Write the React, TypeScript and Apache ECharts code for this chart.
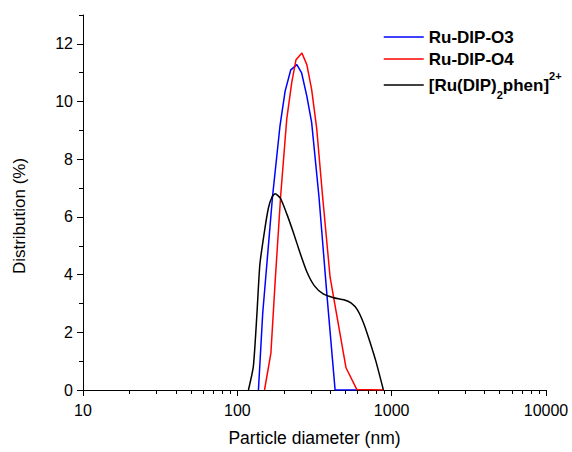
import React, { useEffect, useRef } from 'react';
import * as echarts from 'echarts';

const FONT = '"Liberation Sans", Arial, Helvetica, sans-serif';

const seriesNames = ['Ru-DIP-O3', 'Ru-DIP-O4', '[Ru(DIP)2phen]2+'];
const seriesColors = ['#0000ff', '#ff0000', '#000000'];

// Ru-DIP-O3 (blue)
const o3Diameter = [137, 146, 169, 189, 204, 222, 243, 261, 282, 303, 338, 380, 430, 594];
const o3Dist = [0, 2.65, 6.7, 9.16, 10.36, 11.1, 11.28, 10.99, 10.19, 9.28, 6.7, 3.34, 0, 0];

// Ru-DIP-O4 (red)
const o4Diameter = [150, 165, 176, 191, 209, 225, 240, 262, 282, 303, 327, 357, 399, 506, 594, 884];
const o4Dist = [0, 1.28, 3.8, 6.75, 9.39, 10.65, 11.45, 11.68, 11.28, 10.42, 9.05, 6.7, 3.91, 0.77, 0.02, 0];

// [Ru(DIP)2phen]2+ (black)
const phenDiameter = [118, 127, 134, 140, 150, 159, 168, 176, 190, 210, 231, 255, 282, 315, 360, 420, 490, 545, 600, 660, 720, 790, 884];
const phenDist = [0, 0.82, 2.65, 4.36, 5.51, 6.31, 6.7, 6.8, 6.65, 6.08, 5.45, 4.75, 4.1, 3.62, 3.33, 3.2, 3.13, 3.02, 2.78, 2.3, 1.7, 1.0, 0];

const xMajorTicks = [10, 100, 1000, 10000];
const xMinorTicks = [20, 30, 40, 50, 60, 70, 80, 90, 200, 300, 400, 500, 600, 700, 800, 900, 2000, 3000, 4000, 5000, 6000, 7000, 8000, 9000];
const yMajorTicks = [0, 2, 4, 6, 8, 10, 12];
const yMinorTicks = [1, 3, 5, 7, 9, 11, 13];

const xTitle = 'Particle diameter (nm)';
const yTitle = 'Distribution (%)';

const zip = (xs: number[], ys: number[]) => xs.map((x, i) => [x, ys[i]]);

export default function App() {
  const ref = useRef<HTMLDivElement>(null);
  useEffect(() => {
    if (!ref.current) return;
    const chart = echarts.init(ref.current, null, { renderer: 'svg' });
    const axisLine = { show: true, lineStyle: { color: '#000', width: 1 } };
    const datasets = [zip(o3Diameter, o3Dist), zip(o4Diameter, o4Dist), zip(phenDiameter, phenDist)];
    const legendText = (lineHeight: number) => ({
      fontFamily: FONT,
      fontSize: 17,
      fontWeight: 'bold' as const,
      color: '#000',
      lineHeight,
      rich: {
        sub: { fontFamily: FONT, fontSize: 11, fontWeight: 'bold' as const, color: '#000', lineHeight, verticalAlign: 'bottom' as const },
        sup: { fontFamily: FONT, fontSize: 11, fontWeight: 'bold' as const, color: '#000', lineHeight, verticalAlign: 'top' as const },
      },
    });
    const legendTops = [27, 49, 70];
    const legendLH = [20, 20, 30];
    chart.setOption({
      animation: false,
      backgroundColor: '#fff',
      grid: { left: 83, right: 26, top: 15, bottom: 58, containLabel: false },
      legend: seriesNames.map((n, i) => ({
        data: [n],
        orient: 'vertical',
        left: 383,
        top: legendTops[i],
        itemWidth: 40,
        itemHeight: 20,
        itemGap: 0,
        padding: 0,
        itemStyle: { color: 'rgba(0,0,0,0)', borderWidth: 0, opacity: 0 },
        lineStyle: { width: 1.5 },
        textStyle: legendText(legendLH[i]),
        formatter: (name: string) => (name === seriesNames[2] ? '[Ru(DIP){sub|2}phen]{sup|2+}' : name),
      })),
      xAxis: [
        {
          type: 'log',
          logBase: 10,
          min: 10,
          max: 10000,
          axisLine,
          splitLine: { show: false },
          axisTick: { show: true, inside: false, length: 6, customValues: xMajorTicks, lineStyle: { color: '#000' } },
          axisLabel: {
            customValues: xMajorTicks,
            formatter: (v: number) => String(Math.round(v)),
            fontFamily: FONT,
            fontSize: 16,
            color: '#000',
            margin: 12,
          },
          name: xTitle,
          nameLocation: 'middle',
          nameGap: 39,
          nameTextStyle: { fontFamily: FONT, fontSize: 17.5, color: '#000' },
        },
        {
          type: 'log',
          logBase: 10,
          min: 10,
          max: 10000,
          position: 'bottom',
          axisLine: { show: false },
          splitLine: { show: false },
          axisLabel: { show: false },
          axisTick: { show: true, inside: false, length: 4, customValues: xMinorTicks, lineStyle: { color: '#000' } },
        },
      ],
      yAxis: [
        {
          type: 'value',
          min: 0,
          max: 13,
          position: 'left',
          axisLine,
          splitLine: { show: false },
          axisTick: { show: true, inside: false, length: 6, customValues: yMajorTicks, lineStyle: { color: '#000' } },
          axisLabel: { customValues: yMajorTicks, fontFamily: FONT, fontSize: 16, color: '#000', margin: 10 },
        },
        {
          type: 'value',
          min: 0,
          max: 13,
          position: 'left',
          axisLine: { show: false },
          splitLine: { show: false },
          axisLabel: { show: false },
          axisTick: { show: true, inside: false, length: 4, customValues: yMinorTicks, lineStyle: { color: '#000' } },
        },
      ],
      graphic: [
        {
          type: 'text',
          x: 19,
          y: 216,
          rotation: Math.PI / 2,
          style: { text: yTitle, fontFamily: FONT, fontSize: 17, fill: '#000', align: 'center', verticalAlign: 'middle' },
        },
      ],
      series: seriesNames.map((n, i) => ({
        name: n,
        type: 'line',
        xAxisIndex: 0,
        yAxisIndex: 0,
        data: datasets[i],
        symbol: 'none',
        showSymbol: false,
        smooth: i === 2 ? 0.2 : false,
        lineStyle: { color: seriesColors[i], width: 1.5 },
        itemStyle: { color: seriesColors[i] },
      })),
    });
    return () => chart.dispose();
  }, []);
  return <div ref={ref} style={{ width: 572, height: 452, position: 'absolute', left: 0, top: 0 }} />;
}
